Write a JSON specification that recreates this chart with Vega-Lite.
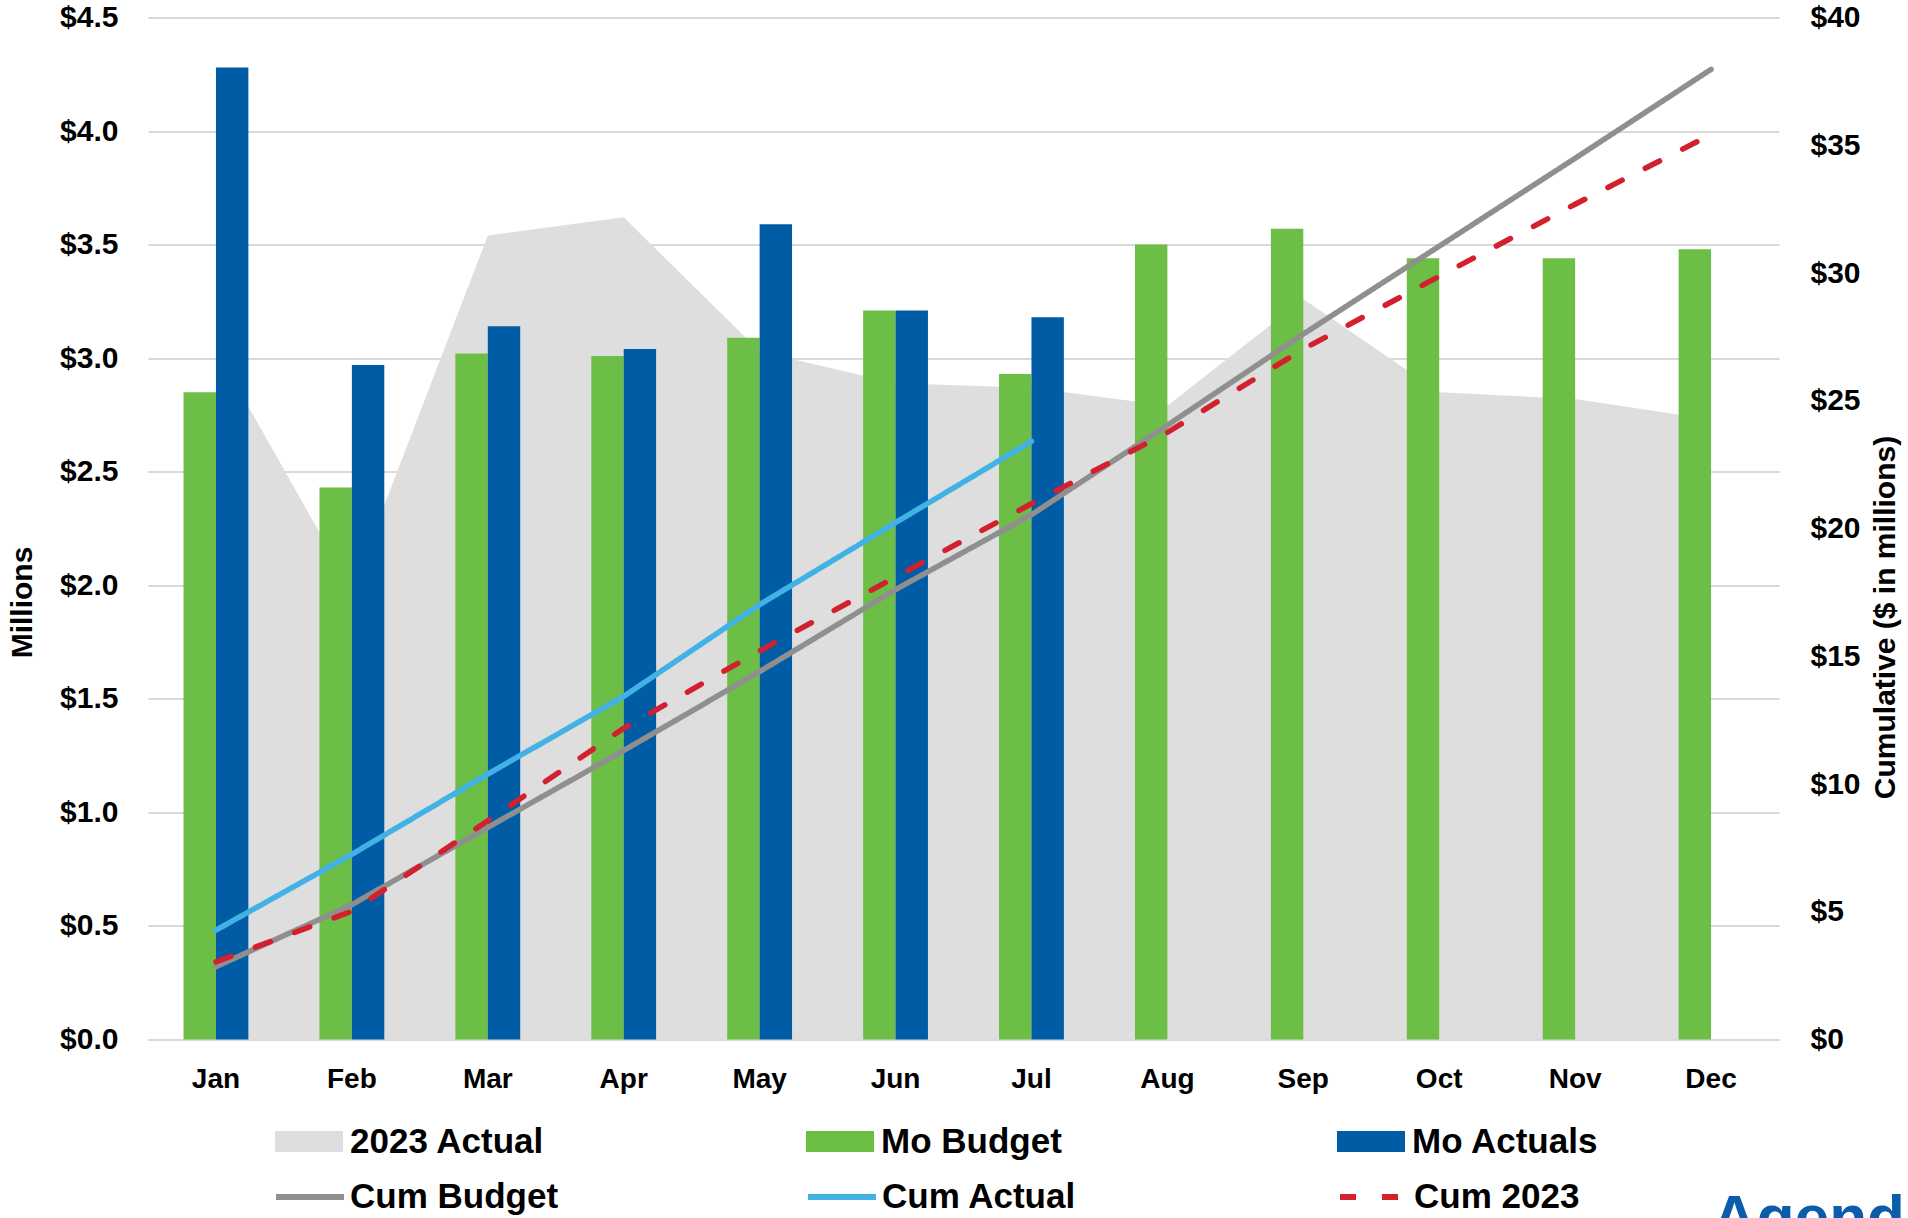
{
  "$schema": "https://vega.github.io/schema/vega-lite/v6.json",
  "width": 1631,
  "height": 1022,
  "autosize": {"type": "none"},
  "padding": {"left": 148, "top": 17.5, "right": 129, "bottom": 178.5},
  "background": "white",
  "config": {"view": {"stroke": null}, "font": "Liberation Sans"},
  "title": {"text": "Agenda", "orient": "top", "anchor": "start", "frame": "group", "align": "left", "baseline": "top", "dx": 1564, "dy": 1248, "offset": 0, "fontSize": 62, "font": "Liberation Sans", "fontWeight": "bold", "color": "#0B5CAB"},
  "data": {"values": [
    {"month": "Jan", "series": "2023 Actual", "value": 3.04},
    {"month": "Feb", "series": "2023 Actual", "value": 1.98},
    {"month": "Mar", "series": "2023 Actual", "value": 3.54},
    {"month": "Apr", "series": "2023 Actual", "value": 3.62},
    {"month": "May", "series": "2023 Actual", "value": 3.03},
    {"month": "Jun", "series": "2023 Actual", "value": 2.89},
    {"month": "Jul", "series": "2023 Actual", "value": 2.87},
    {"month": "Aug", "series": "2023 Actual", "value": 2.79},
    {"month": "Sep", "series": "2023 Actual", "value": 3.26},
    {"month": "Oct", "series": "2023 Actual", "value": 2.85},
    {"month": "Nov", "series": "2023 Actual", "value": 2.82},
    {"month": "Dec", "series": "2023 Actual", "value": 2.73},
    {"month": "Jan", "series": "Mo Budget", "value": 2.85},
    {"month": "Feb", "series": "Mo Budget", "value": 2.43},
    {"month": "Mar", "series": "Mo Budget", "value": 3.02},
    {"month": "Apr", "series": "Mo Budget", "value": 3.01},
    {"month": "May", "series": "Mo Budget", "value": 3.09},
    {"month": "Jun", "series": "Mo Budget", "value": 3.21},
    {"month": "Jul", "series": "Mo Budget", "value": 2.93},
    {"month": "Aug", "series": "Mo Budget", "value": 3.50},
    {"month": "Sep", "series": "Mo Budget", "value": 3.57},
    {"month": "Oct", "series": "Mo Budget", "value": 3.44},
    {"month": "Nov", "series": "Mo Budget", "value": 3.44},
    {"month": "Dec", "series": "Mo Budget", "value": 3.48},
    {"month": "Jan", "series": "Mo Actuals", "value": 4.28},
    {"month": "Feb", "series": "Mo Actuals", "value": 2.97},
    {"month": "Mar", "series": "Mo Actuals", "value": 3.14},
    {"month": "Apr", "series": "Mo Actuals", "value": 3.04},
    {"month": "May", "series": "Mo Actuals", "value": 3.59},
    {"month": "Jun", "series": "Mo Actuals", "value": 3.21},
    {"month": "Jul", "series": "Mo Actuals", "value": 3.18},
    {"month": "Jan", "series": "Cum Budget", "value": 2.85},
    {"month": "Feb", "series": "Cum Budget", "value": 5.28},
    {"month": "Mar", "series": "Cum Budget", "value": 8.30},
    {"month": "Apr", "series": "Cum Budget", "value": 11.31},
    {"month": "May", "series": "Cum Budget", "value": 14.40},
    {"month": "Jun", "series": "Cum Budget", "value": 17.61},
    {"month": "Jul", "series": "Cum Budget", "value": 20.54},
    {"month": "Aug", "series": "Cum Budget", "value": 24.04},
    {"month": "Sep", "series": "Cum Budget", "value": 27.61},
    {"month": "Oct", "series": "Cum Budget", "value": 31.05},
    {"month": "Nov", "series": "Cum Budget", "value": 34.49},
    {"month": "Dec", "series": "Cum Budget", "value": 37.97},
    {"month": "Jan", "series": "Cum Actual", "value": 4.28},
    {"month": "Feb", "series": "Cum Actual", "value": 7.25},
    {"month": "Mar", "series": "Cum Actual", "value": 10.39},
    {"month": "Apr", "series": "Cum Actual", "value": 13.43},
    {"month": "May", "series": "Cum Actual", "value": 17.02},
    {"month": "Jun", "series": "Cum Actual", "value": 20.23},
    {"month": "Jul", "series": "Cum Actual", "value": 23.41},
    {"month": "Jan", "series": "Cum 2023", "value": 3.04},
    {"month": "Feb", "series": "Cum 2023", "value": 5.02},
    {"month": "Mar", "series": "Cum 2023", "value": 8.56},
    {"month": "Apr", "series": "Cum 2023", "value": 12.18},
    {"month": "May", "series": "Cum 2023", "value": 15.21},
    {"month": "Jun", "series": "Cum 2023", "value": 18.10},
    {"month": "Jul", "series": "Cum 2023", "value": 20.97},
    {"month": "Aug", "series": "Cum 2023", "value": 23.76},
    {"month": "Sep", "series": "Cum 2023", "value": 27.02},
    {"month": "Oct", "series": "Cum 2023", "value": 29.87},
    {"month": "Nov", "series": "Cum 2023", "value": 32.69},
    {"month": "Dec", "series": "Cum 2023", "value": 35.42}
  ]},
  "encoding": {
    "x": {
      "field": "month", "type": "ordinal",
      "sort": ["Jan","Feb","Mar","Apr","May","Jun","Jul","Aug","Sep","Oct","Nov","Dec"],
      "scale": {"type": "band", "domain": ["Jan","Feb","Mar","Apr","May","Jun","Jul","Aug","Sep","Oct","Nov","Dec"], "paddingInner": 0.523, "paddingOuter": 0.2615},
      "axis": {"title": null, "domain": false, "ticks": false, "grid": false, "labelAngle": 0, "labelFont": "Liberation Sans", "labelFontSize": 28, "labelFontWeight": "bold", "labelColor": "#000000", "labelPadding": 26}
    }
  },
  "layer": [
    {
      "layer": [
        {
          "transform": [{"filter": "datum.series === '2023 Actual'"}],
          "mark": {"type": "area", "opacity": 1},
          "encoding": {
            "y": {
              "field": "value", "type": "quantitative",
              "scale": {"domain": [0, 4.5], "nice": false, "zero": true},
              "axis": {"values": [0,0.5,1,1.5,2,2.5,3,3.5,4,4.5], "format": "$.1f", "title": "Millions", "grid": true, "gridColor": "#D9D9D9", "gridWidth": 2, "domain": false, "ticks": false, "labelFont": "Liberation Sans", "labelFontSize": 30, "labelFontWeight": "bold", "labelColor": "#000000", "labelPadding": 30, "titleFont": "Liberation Sans", "titleFontSize": 30, "titleFontWeight": "bold", "titleColor": "#000000", "titleX": -125.5, "titleY": 584.5, "titleAngle": -90, "titleAlign": "center", "titleBaseline": "middle"}
            },
            "fill": {
              "field": "series", "type": "nominal",
              "scale": {"domain": ["2023 Actual","Mo Budget","Mo Actuals"], "range": ["#DEDEDE","#6CBE47","#015CA6"]},
              "legend": {"orient": "none", "legendX": 127, "legendY": 1090, "direction": "horizontal", "columns": 3, "gridAlign": "all", "columnPadding": 261, "title": null, "padding": 0, "labelFont": "Liberation Sans", "labelFontWeight": "bold", "labelFontSize": 35, "labelColor": "#000000", "labelOffset": 7, "labelLimit": 500, "symbolType": "M-1,-0.31H1V0.31H-1Z", "symbolSize": 4624, "symbolStrokeWidth": 0, "symbolOpacity": 1}
            }
          }
        },
        {
          "transform": [{"filter": {"field": "series", "oneOf": ["Mo Budget", "Mo Actuals"]}}],
          "mark": {"type": "bar"},
          "encoding": {
            "xOffset": {"field": "series", "type": "nominal", "scale": {"domain": ["Mo Budget", "Mo Actuals"], "paddingInner": 0, "paddingOuter": 0}},
            "y": {"field": "value", "type": "quantitative"},
            "fill": {
              "field": "series", "type": "nominal",
              "legend": {"orient": "none", "legendX": 127, "legendY": 1090, "direction": "horizontal", "columns": 3, "gridAlign": "all", "columnPadding": 261, "title": null, "padding": 0, "labelFont": "Liberation Sans", "labelFontWeight": "bold", "labelFontSize": 35, "labelColor": "#000000", "labelOffset": 7, "labelLimit": 500, "symbolType": "M-1,-0.31H1V0.31H-1Z", "symbolSize": 4624, "symbolStrokeWidth": 0, "symbolOpacity": 1}
            }
          }
        }
      ]
    },
    {
      "layer": [
        {
          "transform": [{"filter": "datum.series === 'Cum Budget'"}],
          "mark": {"type": "line", "strokeWidth": 5.5, "strokeCap": "round", "strokeJoin": "round"},
          "encoding": {
            "y": {
              "field": "value", "type": "quantitative",
              "scale": {"domain": [0, 40], "nice": false, "zero": true},
              "axis": {"orient": "right", "values": [0,5,10,15,20,25,30,35,40], "format": "$d", "title": "Cumulative ($ in millions)", "grid": false, "domain": false, "ticks": false, "labelFont": "Liberation Sans", "labelFontSize": 30, "labelFontWeight": "bold", "labelColor": "#000000", "labelPadding": 31, "titleFont": "Liberation Sans", "titleFontSize": 30, "titleFontWeight": "bold", "titleColor": "#000000", "titleX": 106, "titleY": 599.5, "titleAngle": -90, "titleAlign": "center", "titleBaseline": "middle"}
            },
            "stroke": {
              "field": "series", "type": "nominal",
              "scale": {"domain": ["Cum Budget","Cum Actual","Cum 2023"], "range": ["#8F8F8F","#41B1E6","#D3202F"]},
              "legend": {"orient": "none", "legendX": 125, "legendY": 1142.5, "direction": "horizontal", "columns": 3, "gridAlign": "all", "columnPadding": 237, "title": null, "padding": 0, "labelFont": "Liberation Sans", "labelFontWeight": "bold", "labelFontSize": 35, "labelColor": "#000000", "labelOffset": 3, "labelLimit": 500, "symbolType": "stroke", "symbolSize": 4624, "symbolStrokeWidth": 6, "symbolOpacity": 1}
            },
            "strokeDash": {
              "field": "series", "type": "nominal",
              "scale": {"domain": ["Cum Budget","Cum Actual","Cum 2023"], "range": [[1, 0], [1, 0], [16, 26]]},
              "legend": {"orient": "none", "legendX": 125, "legendY": 1142.5, "direction": "horizontal", "columns": 3, "gridAlign": "all", "columnPadding": 237, "title": null, "padding": 0, "labelFont": "Liberation Sans", "labelFontWeight": "bold", "labelFontSize": 35, "labelColor": "#000000", "labelOffset": 3, "labelLimit": 500, "symbolType": "stroke", "symbolSize": 4624, "symbolStrokeWidth": 6, "symbolOpacity": 1}
            }
          }
        },
        {
          "transform": [{"filter": "datum.series === 'Cum Actual'"}],
          "mark": {"type": "line", "strokeWidth": 5.5, "strokeCap": "round", "strokeJoin": "round"},
          "encoding": {
            "y": {"field": "value", "type": "quantitative"},
            "stroke": {"field": "series", "type": "nominal"},
            "strokeDash": {"field": "series", "type": "nominal"}
          }
        },
        {
          "transform": [{"filter": "datum.series === 'Cum 2023'"}],
          "mark": {"type": "line", "strokeWidth": 5.5, "strokeCap": "round", "strokeJoin": "round"},
          "encoding": {
            "y": {"field": "value", "type": "quantitative"},
            "stroke": {"field": "series", "type": "nominal"},
            "strokeDash": {"field": "series", "type": "nominal"}
          }
        }
      ]
    }
  ],
  "resolve": {"scale": {"y": "independent"}}
}
